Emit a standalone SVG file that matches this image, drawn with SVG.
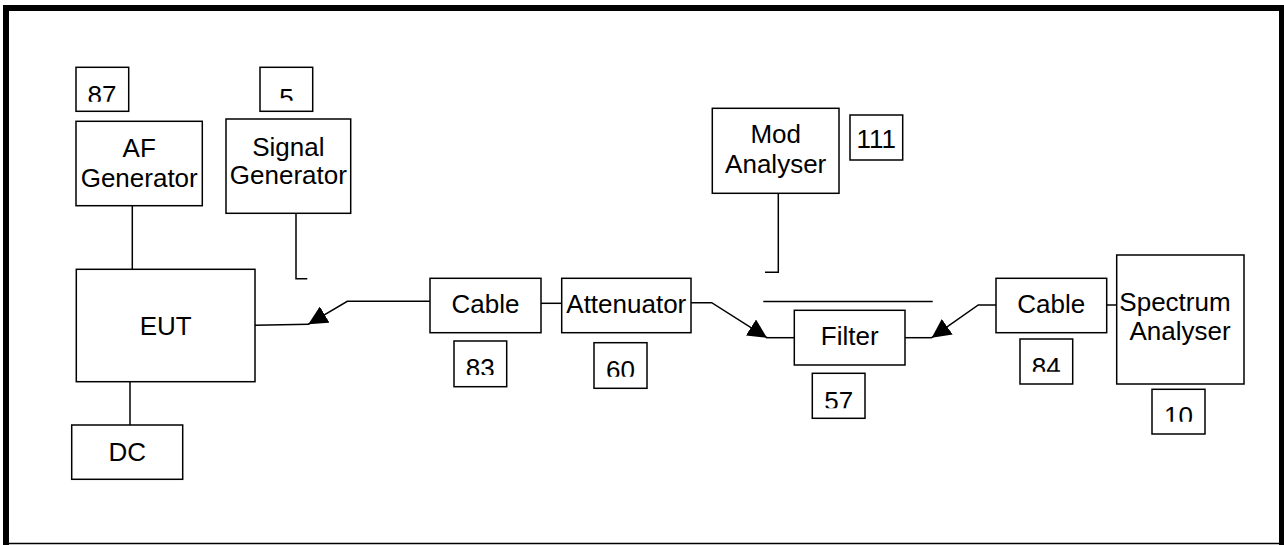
<svg xmlns="http://www.w3.org/2000/svg" width="1284" height="545" viewBox="0 0 1284 545">
<style>
.box{fill:#fff;stroke:#000;stroke-width:1.5}
.t{font-family:"Liberation Sans",Arial,sans-serif;font-size:26px;fill:#000;text-anchor:middle}
.c{fill:none;stroke:#000;stroke-width:1.5}
</style>
<defs>
<marker id="ah" markerUnits="userSpaceOnUse" markerWidth="19" markerHeight="19" viewBox="0 0 19 19" refX="19" refY="9.5" orient="auto">
<path d="M0,0 L19,9.5 L0,19 z" fill="#000"/>
</marker>
<clipPath id="k87"><rect x="76" y="67" width="53" height="34.7"/></clipPath>
<clipPath id="k5"><rect x="260" y="67" width="53" height="33.7"/></clipPath>
<clipPath id="k83"><rect x="454" y="341" width="53" height="34"/></clipPath>
<clipPath id="k60"><rect x="594" y="343" width="53" height="33.7"/></clipPath>
<clipPath id="k57"><rect x="812" y="373" width="53" height="35.3"/></clipPath>
<clipPath id="k84"><rect x="1020" y="339" width="53" height="32.7"/></clipPath>
<clipPath id="k10"><rect x="1152" y="389" width="53" height="32.7"/></clipPath>
</defs>
<g id="frame">
<rect x="3" y="5" width="1281" height="6" fill="#000"/>
<rect x="3" y="5" width="6" height="540" fill="#000"/>
<rect x="1279" y="5" width="5" height="540" fill="#000"/>
<line x1="3" y1="543.5" x2="1284" y2="543.5" stroke="#000" stroke-width="1.5"/>
</g>
<g id="connectors">
<line class="c" x1="132.3" y1="205.7" x2="132.3" y2="269.3"/>
<polyline class="c" points="296,213.3 296,278.7 307.3,278.7"/>
<line class="c" x1="130" y1="381.7" x2="130" y2="425"/>
<line class="c" x1="255" y1="325.3" x2="309" y2="324.3"/>
<polyline class="c" points="430,301.3 347.3,301.3 308.3,324.3" marker-end="url(#ah)"/>
<line class="c" x1="541" y1="303.3" x2="561.7" y2="303.3"/>
<polyline class="c" points="691,302.7 711.7,302.7 767,337.7" marker-end="url(#ah)"/>
<line class="c" x1="766" y1="337.7" x2="794.3" y2="337.7"/>
<polyline class="c" points="778.3,193.3 778.3,272.3 765,272.3"/>
<line class="c" x1="763.3" y1="301.5" x2="932.7" y2="301.5"/>
<line class="c" x1="905" y1="337.7" x2="932" y2="337.7"/>
<polyline class="c" points="996,305 978.3,305 931.7,337.7" marker-end="url(#ah)"/>
<line class="c" x1="1105" y1="305" x2="1116.7" y2="305"/>
</g>
<g id="n87"><rect class="box" x="76" y="67.3" width="52.7" height="44"/><text class="t" x="102" y="103.7" clip-path="url(#k87)">87</text></g>
<g id="afgen"><rect class="box" x="76" y="121.3" width="126.3" height="84.4"/><text class="t" x="139.2" y="157.3">AF</text><text class="t" x="139.2" y="186.7">Generator</text></g>
<g id="n5"><rect class="box" x="260" y="67.3" width="52.7" height="44"/><text class="t" x="286.5" y="107" clip-path="url(#k5)">5</text></g>
<g id="siggen"><rect class="box" x="226" y="119" width="124.7" height="94.3"/><text class="t" x="288.4" y="155.7">Signal</text><text class="t" x="288.4" y="184.3">Generator</text></g>
<g id="eut"><rect class="box" x="76.3" y="269.3" width="178.7" height="112.4"/><text class="t" x="165.7" y="335">EUT</text></g>
<g id="dc"><rect class="box" x="71.7" y="425" width="111" height="54.3"/><text class="t" x="127.2" y="460.7">DC</text></g>
<g id="cable1"><rect class="box" x="430" y="278.3" width="111" height="54.4"/><text class="t" x="485.5" y="313.3">Cable</text></g>
<g id="n83"><rect class="box" x="454" y="341" width="52.7" height="45.7"/><text class="t" x="480.3" y="377" clip-path="url(#k83)">83</text></g>
<g id="atten"><rect class="box" x="561.7" y="278.3" width="129.3" height="54.4"/><text class="t" x="626.3" y="313.3">Attenuator</text></g>
<g id="n60"><rect class="box" x="594" y="342.7" width="53" height="45.6"/><text class="t" x="620.5" y="379.3" clip-path="url(#k60)">60</text></g>
<g id="modan"><rect class="box" x="712.3" y="108.3" width="126.7" height="85"/><text class="t" x="775.7" y="143.3">Mod</text><text class="t" x="775.7" y="173.3">Analyser</text></g>
<g id="n111"><rect class="box" x="850" y="115" width="52.7" height="45"/><text class="t" x="876.3" y="148.3">111</text></g>
<g id="filter"><rect class="box" x="794.3" y="310.3" width="110.7" height="54.7"/><text class="t" x="849.7" y="345">Filter</text></g>
<g id="n57"><rect class="box" x="812.3" y="373.3" width="52.7" height="45"/><text class="t" x="838.7" y="410.3" clip-path="url(#k57)">57</text></g>
<g id="cable2"><rect class="box" x="996" y="278.3" width="110.7" height="54.4"/><text class="t" x="1051.3" y="313.3">Cable</text></g>
<g id="n84"><rect class="box" x="1020" y="339" width="52.7" height="45"/><text class="t" x="1046.3" y="376" clip-path="url(#k84)">84</text></g>
<g id="specan"><rect class="box" x="1116.7" y="255" width="127.3" height="129"/><text class="t" x="1175" y="310.7">Spectrum</text><text class="t" x="1180" y="340">Analyser</text></g>
<g id="n10"><rect class="box" x="1152" y="389.3" width="53" height="44.7"/><text class="t" x="1178.5" y="425.3" clip-path="url(#k10)">10</text></g>
</svg>
